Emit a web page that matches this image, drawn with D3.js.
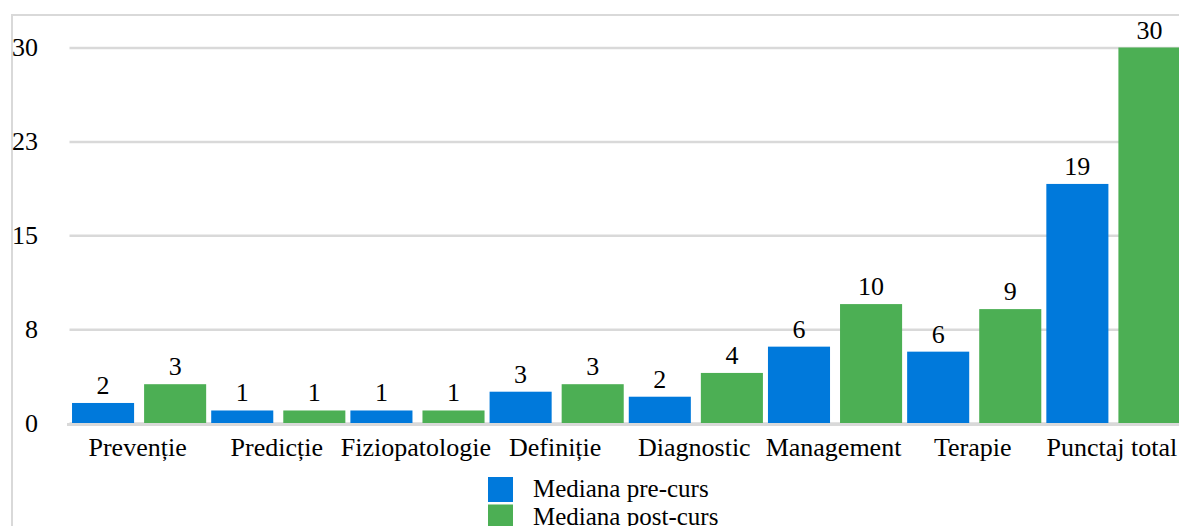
<!doctype html>
<html lang="ro">
<head>
<meta charset="utf-8">
<script src="https://d3js.org/d3.v7.min.js"></script>
<style>
  body { margin: 0; background: #fff; }
</style>
</head>
<body>
<svg id="svg1" width="1179" height="526" font-family="Liberation Serif"></svg>
<script>
    // data
    const categories = ["Prevenție", "Predicție", "Fiziopatologie", "Definiție", "Diagnostic", "Management", "Terapie", "Punctaj total"];
    const seriesNames = ["Mediana pre-curs", "Mediana post-curs"];
    const preValues  = [1.6, 1, 1, 2.5, 2.1, 6.1, 5.7, 19.1];
    const postValues = [3.1, 1, 1, 3.1, 4.0, 9.5, 9.1, 30];
    const tickValues = [0, 7.5, 15, 22.5, 30];
    const colors = ["#0079db", "#4caf54"];

    const FONT = "Liberation Serif";
    const width = 1179, height = 526;
    const margin = { top: 47.5, bottom: 103, left: 69.5 };
    const plotRight = 1183;

    const rows = categories.map((c, i) => ({ cat: c, values: [preValues[i], postValues[i]] }));

    const svg = d3.select("#svg1");

    // frame
    svg.append("path")
        .attr("d", `M12,${height} V15 H${width}`)
        .attr("fill", "none")
        .attr("stroke", "#d9d9d9")
        .attr("stroke-width", 2);

    const x0 = d3.scaleBand().domain(categories).range([margin.left, plotRight]).padding(0);
    const x1 = d3.scaleBand().domain([0, 1]).range([0, x0.bandwidth()])
        .paddingInner(10 / 72).paddingOuter(0.035);
    const y = d3.scaleLinear().domain([0, 30]).range([height - margin.bottom, margin.top]);

    // y axis with gridlines
    const yAxis = svg.append("g")
        .attr("transform", `translate(${margin.left},0)`)
        .call(d3.axisLeft(y).tickValues(tickValues)
            .tickSize(-(width - margin.left))
            .tickFormat(d => Math.round(d)));
    yAxis.attr("font-family", FONT);
    yAxis.select(".domain").remove();
    yAxis.selectAll(".tick line").attr("stroke", "#d9d9d9").attr("stroke-width", 2.5);
    yAxis.selectAll(".tick text")
        .attr("x", 38 - margin.left)
        .attr("text-anchor", "end")
        .attr("fill", "#000")
        .attr("font-size", 26)
        .attr("font-family", FONT);

    // bars
    const groups = svg.append("g").selectAll("g")
        .data(rows)
        .join("g")
        .attr("transform", d => `translate(${x0(d.cat)},0)`);

    groups.selectAll("rect")
        .data(d => d.values.map((v, k) => ({ k, v })))
        .join("rect")
        .attr("x", d => x1(d.k))
        .attr("width", x1.bandwidth())
        .attr("y", d => y(d.v))
        .attr("height", d => y(0) - y(d.v))
        .attr("fill", d => colors[d.k]);

    groups.selectAll("text.val")
        .data(d => d.values.map((v, k) => ({ k, v })))
        .join("text")
        .attr("class", "val")
        .attr("x", d => x1(d.k) + x1.bandwidth() / 2)
        .attr("y", d => y(d.v) - 9)
        .attr("text-anchor", "middle")
        .attr("font-size", 26)
        .attr("font-family", FONT)
        .text(d => Math.round(d.v));

    // baseline
    svg.append("line")
        .attr("x1", 67).attr("x2", width)
        .attr("y1", y(0) + 1.5).attr("y2", y(0) + 1.5)
        .attr("stroke", "#d9d9d9")
        .attr("stroke-width", 3);

    // category labels
    svg.append("g").selectAll("text")
        .data(categories)
        .join("text")
        .attr("x", d => x0(d) + x0.bandwidth() / 2 - 1.5)
        .attr("y", 456)
        .attr("text-anchor", "middle")
        .attr("font-size", 26)
        .attr("font-family", FONT)
        .text(d => d);

    // legend
    const legend = svg.append("g").attr("transform", "translate(488,477)");
    const item = legend.selectAll("g")
        .data(seriesNames)
        .join("g")
        .attr("transform", (d, i) => `translate(0,${i * 27.5})`);
    item.append("rect")
        .attr("width", 25).attr("height", 25)
        .attr("fill", (d, i) => colors[i]);
    item.append("text")
        .attr("x", 45)
        .attr("y", 20)
        .attr("font-size", 25)
        .attr("font-family", FONT)
        .text(d => d);
</script>
</body>
</html>
